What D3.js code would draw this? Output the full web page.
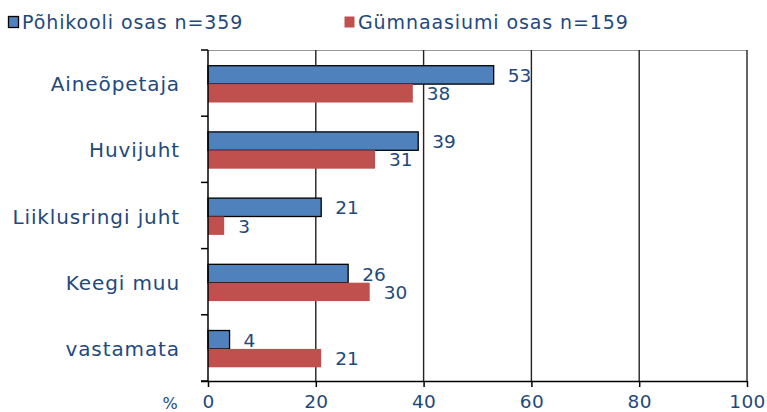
<!DOCTYPE html>
<html>
<head>
<meta charset="utf-8">
<script src="https://cdn.jsdelivr.net/npm/d3@7"></script>
<style>
  body { margin: 0; background: #fff; }
  text { font-family: "DejaVu Sans", Verdana, sans-serif; fill: #1f497d; }
</style>
</head>
<body>
<div id="chart"></div>
<script>
const categories = ["Aineõpetaja", "Huvijuht", "Liiklusringi juht", "Keegi muu", "vastamata"];
const pohikool = [53, 39, 21, 26, 4];
const gymnaasium = [38, 31, 3, 30, 21];
const seriesNames = ["Põhikooli osas n=359", "Gümnaasiumi osas n=159"];
const seriesColors = ["#4f81bd", "#c0504d"];
const xTicks = [0, 20, 40, 60, 80, 100];

const width = 767, height = 412;
const margin = { top: 50, right: 20, bottom: 31, left: 208 };

const svg = d3.select("#chart").append("svg")
  .attr("width", width)
  .attr("height", height);

const x = d3.scaleLinear().domain([0, 100]).range([margin.left, 747]);
const y = d3.scaleBand().domain(categories).range([margin.top, height - margin.bottom]);
const inner = d3.scaleBand().domain([0, 1]).range([1, y.bandwidth() + 1]).paddingOuter(0.8).paddingInner(0);

// top border
svg.append("line")
  .attr("x1", x(0)).attr("x2", x(100))
  .attr("y1", margin.top + 0.5).attr("y2", margin.top + 0.5)
  .attr("stroke", "#999");

// gridlines
svg.append("g").selectAll("line")
  .data(xTicks.slice(1))
  .enter().append("line")
  .attr("x1", d => x(d)).attr("x2", d => x(d))
  .attr("y1", margin.top).attr("y2", height - margin.bottom)
  .attr("stroke", "#222")
  .attr("stroke-width", 1.4);

// bars
const series = [pohikool, gymnaasium];
series.forEach((vals, si) => {
  const g = svg.append("g");
  g.selectAll("rect")
    .data(vals)
    .enter().append("rect")
    .attr("x", x(0))
    .attr("y", (d, i) => y(categories[i]) + inner(si))
    .attr("width", d => x(d) - x(0))
    .attr("height", inner.bandwidth())
    .attr("fill", seriesColors[si])
    .attr("stroke", si === 0 ? "#000" : "none")
    .attr("stroke-width", 1.3);

  g.selectAll("text")
    .data(vals)
    .enter().append("text")
    .attr("x", d => x(d) + 14)
    .attr("y", (d, i) => y(categories[i]) + inner(si) + inner.bandwidth() / 2 + 7)
    .attr("font-size", 18.5)
    .text(d => d);
});

// y axis
const yAxis = svg.append("g")
  .attr("transform", `translate(${x(0)},0)`);
yAxis.append("line")
  .attr("y1", margin.top).attr("y2", height - margin.bottom)
  .attr("stroke", "#000").attr("stroke-width", 1.5);
yAxis.selectAll(".tk")
  .data(d3.range(categories.length + 1))
  .enter().append("line")
  .attr("x1", -7).attr("x2", 0)
  .attr("y1", i => margin.top + i * y.step())
  .attr("y2", i => margin.top + i * y.step())
  .attr("stroke", "#000").attr("stroke-width", 1.5);
yAxis.selectAll(".cat")
  .data(categories)
  .enter().append("text")
  .attr("x", -28)
  .attr("y", d => y(d) + y.bandwidth() / 2 + 8)
  .attr("text-anchor", "end")
  .attr("font-size", 20)
  .attr("letter-spacing", 0.9)
  .text(d => d);

// x axis
const xAxis = svg.append("g")
  .attr("transform", `translate(0,${height - margin.bottom})`)
  .call(d3.axisBottom(x).tickValues(xTicks).tickSize(6).tickPadding(8));
xAxis.select(".domain").attr("stroke", "#000").attr("stroke-width", 1.5)
  .attr("d", `M${x(0) - 7},0.5H${x(100)}`);
xAxis.selectAll(".tick line").attr("stroke", "#000").attr("stroke-width", 1.5);
xAxis.selectAll(".tick text")
  .attr("font-size", 18.5)
  .attr("letter-spacing", 0.4)
  .attr("font-family", "DejaVu Sans, Verdana, sans-serif")
  .attr("fill", "#1f497d");
svg.append("text")
  .attr("x", 170).attr("y", 409)
  .attr("text-anchor", "middle")
  .attr("font-size", 16)
  .text("%");

// legend
const legendX = [8, 344];
seriesNames.forEach((name, i) => {
  const lg = svg.append("g").attr("transform", `translate(${legendX[i]},16)`);
  lg.append("rect")
    .attr("x", 0.5).attr("y", 0.5)
    .attr("width", 10).attr("height", 11)
    .attr("fill", seriesColors[i])
    .attr("stroke", i === 0 ? "#000" : "none")
    .attr("stroke-width", 1.3);
  lg.append("text")
    .attr("x", 14).attr("y", 13)
    .attr("font-size", 19)
    .attr("letter-spacing", 0.9)
    .text(name);
});
</script>
</body>
</html>
